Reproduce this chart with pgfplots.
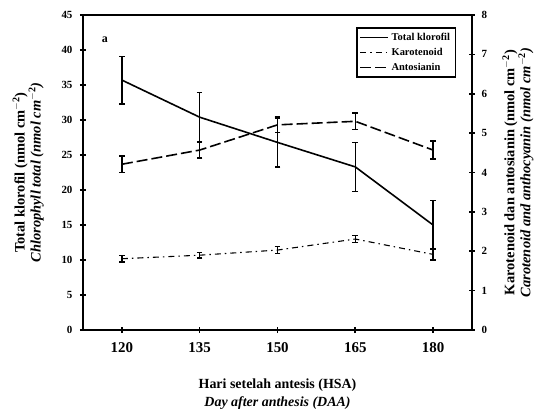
\documentclass[border=0pt]{standalone}
\usepackage{fontspec}
\setmainfont{Liberation Serif}
\usepackage{pgfplots}
\usepackage{pgfplotstable}
\pgfplotsset{compat=1.18}
\pgfplotstableread{
x y e
120 35.7 3.4
135 30.4 3.5
150 26.8 3.5
165 23.3 3.5
180 15.0 3.5
}\klorofil
\pgfplotstableread{
x y e
120 1.81 0.08
135 1.90 0.07
150 2.03 0.09
165 2.31 0.09
180 1.92 0.14
}\karotenoid
\pgfplotstableread{
x y e
120 4.21 0.21
135 4.57 0.20
150 5.21 0.20
165 5.30 0.21
180 4.57 0.23
}\antosianin
\begin{document}
\begin{tikzpicture}
\path[use as bounding box] (-83bp,-86bp) rectangle (453bp,330bp);
\pgfplotsset{
  common/.style={
    scale only axis, width=389bp, height=315bp,
    at={(0bp,0bp)}, anchor=south west,
    xmin=112.5, xmax=187.5,
    /pgf/number format/assume math mode=true,
    tick style={line width=1.6pt, black},
    major tick length=6bp, tick align=center,
    ticklabel style={font=\bfseries\fontsize{11}{13}\selectfont},
    error bars/error bar style={line width=1.5pt, solid},
    error bars/error mark options={line width=1.5pt, mark size=2.8bp, solid, rotate=90},
  }
}
\begin{axis}[common, clip=false,
  ymin=0, ymax=45, ytick={0,5,...,45},
  xtick={120,135,150,165,180},
  xtick pos=lower, ytick pos=left,
  xticklabel style={font=\bfseries\fontsize{15}{17}\selectfont, yshift=-6bp},
  yticklabel style={xshift=-4bp},
  xlabel={\textbf{Hari setelah antesis (HSA)}\\\textbf{\textit{Day after anthesis (DAA)}}},
  xlabel style={align=center, font=\fontsize{14}{18}\selectfont, at={(axis description cs:0.5,-0.203)}, anchor=center},
  ylabel={\textbf{Total klorofil (nmol cm$^{\mathbf{-2}}$)}\\\textbf{\textit{Chlorophyll total (nmol cm$^{\mathbf{-2}}$)}}},
  ylabel style={align=center, font=\fontsize{14.5}{16}\selectfont, at={(axis description cs:-0.141,0.5)}, anchor=center},
]
\addplot[black, line width=1.6pt, error bars/.cd, y dir=both, y explicit]
  table[x=x, y=y, y error=e]{\klorofil};
\node[font=\bfseries\fontsize{12}{14}\selectfont] at (axis cs:116.7,41.4) {a};
\draw[line width=2.6pt, line join=miter] (rel axis cs:0,0) rectangle (rel axis cs:1,1);
\end{axis}
\begin{axis}[common,
  ymin=0, ymax=8, ytick={0,1,...,8},
  axis x line=none, axis y line*=right,
  yticklabel style={xshift=3bp},
  ylabel={\textbf{Karotenoid dan antosianin (nmol cm$^{\mathbf{-2}}$)}\\\textbf{\textit{Carotenoid and anthocyanin (nmol cm$^{\mathbf{-2}}$)}}},
  ylabel style={align=center, font=\fontsize{14.5}{15}\selectfont, at={(axis description cs:1.118,0.5)}, anchor=center},
  legend style={at={(0.96,0.962)}, anchor=north east, draw=black, line width=1.8pt,
    font=\bfseries\fontsize{10.5}{12}\selectfont, inner sep=3bp, row sep=1bp,
    nodes={inner sep=2.5bp}},
  legend cell align=left,
  legend image code/.code={\draw[#1, line width=1.4pt] (0bp,0bp) -- (28bp,0bp);},
]
\addlegendimage{black, line width=1.6pt}
\addlegendentry{Total klorofil}
\addplot[black, line width=1.1pt, dash pattern=on 6bp off 4bp on 1.5bp off 4bp,
  error bars/.cd, y dir=both, y explicit]
  table[x=x, y=y, y error=e]{\karotenoid};
\addlegendentry{Karotenoid}
\addplot[black, line width=1.6pt, dash pattern=on 11bp off 4bp,
  error bars/.cd, y dir=both, y explicit]
  table[x=x, y=y, y error=e]{\antosianin};
\addlegendentry{Antosianin}
\end{axis}
\end{tikzpicture}
\end{document}
